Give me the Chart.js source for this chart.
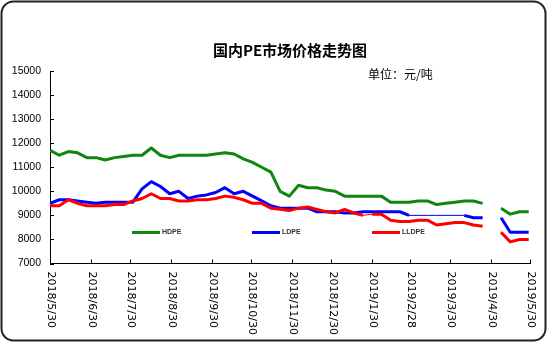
<!DOCTYPE html>
<html>
<head>
<meta charset="utf-8">
<script src="https://cdn.jsdelivr.net/npm/chart.js@4/dist/chart.umd.min.js"></script>
<style>
  html, body { margin: 0; padding: 0; background: #fff; }
  canvas { display: block; }
</style>
</head>
<body>
<canvas id="peChart" width="550" height="344"></canvas>
<script>
// weekly quotes, 元/吨
const weekDates = [
  '2018-05-30', '2018-06-06', '2018-06-13', '2018-06-20', '2018-06-27', '2018-07-04', '2018-07-11',
  '2018-07-18', '2018-07-25', '2018-08-01', '2018-08-08', '2018-08-15', '2018-08-22', '2018-08-29',
  '2018-09-05', '2018-09-12', '2018-09-19', '2018-09-26', '2018-10-03', '2018-10-10', '2018-10-17',
  '2018-10-24', '2018-10-31', '2018-11-07', '2018-11-14', '2018-11-21', '2018-11-28', '2018-12-05',
  '2018-12-12', '2018-12-19', '2018-12-26', '2019-01-02', '2019-01-09', '2019-01-16', '2019-01-23',
  '2019-01-30', '2019-02-06', '2019-02-13', '2019-02-20', '2019-02-27', '2019-03-06', '2019-03-13',
  '2019-03-20', '2019-03-27', '2019-04-03', '2019-04-10', '2019-04-17', '2019-04-24', '2019-05-01',
  '2019-05-08', '2019-05-15', '2019-05-22', '2019-05-29'
];

const hdpe = [
  11700, 11500, 11650, 11600, 11400, 11400, 11300, 11400, 11450, 11500,
  11500, 11800, 11500, 11400, 11500, 11500, 11500, 11500, 11550, 11600,
  11550, 11350, 11200, 11000, 10800, 10000, 9800, 10250, 10150, 10150,
  10050, 10000, 9800, 9800, 9800, 9800, 9800, 9550, 9550, 9550,
  9600, 9600, 9450, 9500, 9550, 9600, 9600, 9500, null, 9300,
  9050, 9150, 9150
];
const ldpe = [
  9500, 9650, 9650, 9600, 9550, 9500, 9550, 9550, 9550, 9550,
  10100, 10400, 10200, 9900, 10000, 9700, 9800, 9850, 9950, 10150,
  9900, 10000, 9800, 9600, 9400, 9300, 9300, 9300, 9300, 9150,
  9150, 9150, 9100, 9100, 9150, 9150, 9150, 9150, 9150, 9000,
  9000, 9000, 9000, 9000, 9000, 9000, 8900, 8900, null, 8900,
  8300, 8300, 8300
];
const lldpe = [
  9400, 9400, 9650, 9500, 9400, 9400, 9400, 9450, 9450, 9600,
  9700, 9900, 9700, 9700, 9600, 9600, 9650, 9650, 9700, 9800,
  9750, 9650, 9500, 9500, 9300, 9250, 9200, 9300, 9350, 9250,
  9150, 9100, 9250, 9100, 9000, 9050, 9050, 8800, 8750, 8750,
  8800, 8800, 8600, 8650, 8700, 8700, 8600, 8550, null, 8300,
  7900, 8000, 8000
];

const tickDates = [
  '2018/5/30', '2018/6/30', '2018/7/30', '2018/8/30', '2018/9/30', '2018/10/30', '2018/11/30',
  '2018/12/30', '2019/1/30', '2019/2/28', '2019/3/30', '2019/4/30', '2019/5/30'
];
const yMin = 7000, yMax = 15000, yStep = 1000;

const base = Date.UTC(2018, 4, 30);
function dayOf(s) {
  const [y, m, d] = s.split(/[-\/]/).map(Number);
  return (Date.UTC(y, m - 1, d) - base) / 864e5;
}
const toPoints = (arr) => weekDates.map((d, i) => ({ x: dayOf(d), y: arr[i] }));

// the renderer thinned a few stretches of the blue and red lines
const thinBetween = (from, to, w) => (ctx) =>
  (ctx.p0DataIndex >= from && ctx.p1DataIndex <= to ? 1 : w);

const framePlugin = {
  id: 'frame',
  beforeDraw(chart) {
    const { ctx, width, height } = chart;
    ctx.save();
    ctx.fillStyle = '#fff';
    ctx.fillRect(0, 0, width, height);
    ctx.restore();
  },
  afterDraw(chart) {
    const { ctx, chartArea } = chart;
    const xs = chart.scales.x, ys = chart.scales.y;
    ctx.save();

    // rounded outer frame
    ctx.strokeStyle = '#222';
    ctx.lineWidth = 2;
    ctx.beginPath();
    ctx.roundRect(1.5, 1.5, 544, 339, 12);
    ctx.stroke();

    // title and unit
    ctx.fillStyle = '#000';
    ctx.textAlign = 'center';
    ctx.textBaseline = 'middle';
    ctx.font = 'bold 15px "Noto Sans CJK SC"';
    ctx.fillText('国内PE市场价格走势图', 290, 50);
    ctx.textAlign = 'left';
    ctx.font = '12px "Noto Sans CJK SC"';
    ctx.fillText('单位：元/吨', 368, 74);

    // inward tick marks
    ctx.strokeStyle = '#000';
    ctx.lineWidth = 1;
    ctx.beginPath();
    for (let v = yMin; v <= yMax; v += yStep) {
      const py = Math.round(ys.getPixelForValue(v)) + 0.5;
      ctx.moveTo(chartArea.left, py);
      ctx.lineTo(chartArea.left + 4, py);
    }
    tickDates.forEach((t) => {
      const px = Math.round(xs.getPixelForValue(dayOf(t))) + 0.5;
      ctx.moveTo(px, chartArea.bottom);
      ctx.lineTo(px, chartArea.bottom - 4);
    });
    ctx.stroke();

    // date labels, rotated to read downward
    ctx.font = '11px "DejaVu Sans"';
    ctx.textAlign = 'left';
    ctx.textBaseline = 'middle';
    tickDates.forEach((t) => {
      const px = xs.getPixelForValue(dayOf(t));
      ctx.save();
      ctx.translate(px + 1, chartArea.bottom + 8);
      ctx.rotate(Math.PI / 2);
      ctx.fillText(t, 0, 0);
      ctx.restore();
    });

    // legend inside the plot
    ctx.font = 'bold 7px "Liberation Sans"';
    chart.data.datasets.forEach((ds, i) => {
      const lx = 132 + i * 120, ly = 232.5;
      ctx.strokeStyle = ds.borderColor;
      ctx.lineWidth = 3;
      ctx.beginPath();
      ctx.moveTo(lx, ly);
      ctx.lineTo(lx + 28, ly);
      ctx.stroke();
      ctx.fillStyle = '#333';
      ctx.fillText(ds.label, lx + 30, ly);
    });
    ctx.restore();
  }
};

new Chart(document.getElementById('peChart'), {
  type: 'line',
  data: {
    datasets: [
      {
        label: 'HDPE',
        data: toPoints(hdpe),
        borderColor: '#0e870e',
        order: 2
      },
      {
        label: 'LDPE',
        data: toPoints(ldpe),
        borderColor: '#0000ff',
        order: 1,
        segment: { borderWidth: thinBetween(39, 45, 3) }
      },
      {
        label: 'LLDPE',
        data: toPoints(lldpe),
        borderColor: '#ff0000',
        order: 0,
        segment: { borderWidth: thinBetween(34, 35, 3) }
      }
    ]
  },
  options: {
    responsive: false,
    animation: false,
    spanGaps: false,
    elements: {
      line: { borderWidth: 3, tension: 0, fill: false, borderJoinStyle: 'round' },
      point: { radius: 0, hoverRadius: 0 }
    },
    layout: { padding: { left: 0, top: 71, right: 20, bottom: 0 } },
    plugins: {
      legend: { display: false },
      title: { display: false },
      tooltip: { enabled: false }
    },
    scales: {
      x: {
        type: 'linear',
        min: 0,
        max: dayOf(tickDates[tickDates.length - 1]),
        grid: { display: false, drawTicks: false },
        border: { color: '#000', width: 1 },
        ticks: { display: false },
        afterFit: (s) => { s.height = 80.5; }
      },
      y: {
        min: yMin,
        max: yMax,
        grid: { display: false, drawTicks: false },
        border: { color: '#000', width: 1 },
        ticks: {
          stepSize: yStep,
          padding: 9,
          color: '#000',
          font: { family: '"Liberation Sans"', size: 10.5 },
          callback: (v) => String(v)
        },
        afterFit: (s) => { s.width = 50; }
      }
    }
  },
  plugins: [framePlugin]
});
</script>
</body>
</html>
